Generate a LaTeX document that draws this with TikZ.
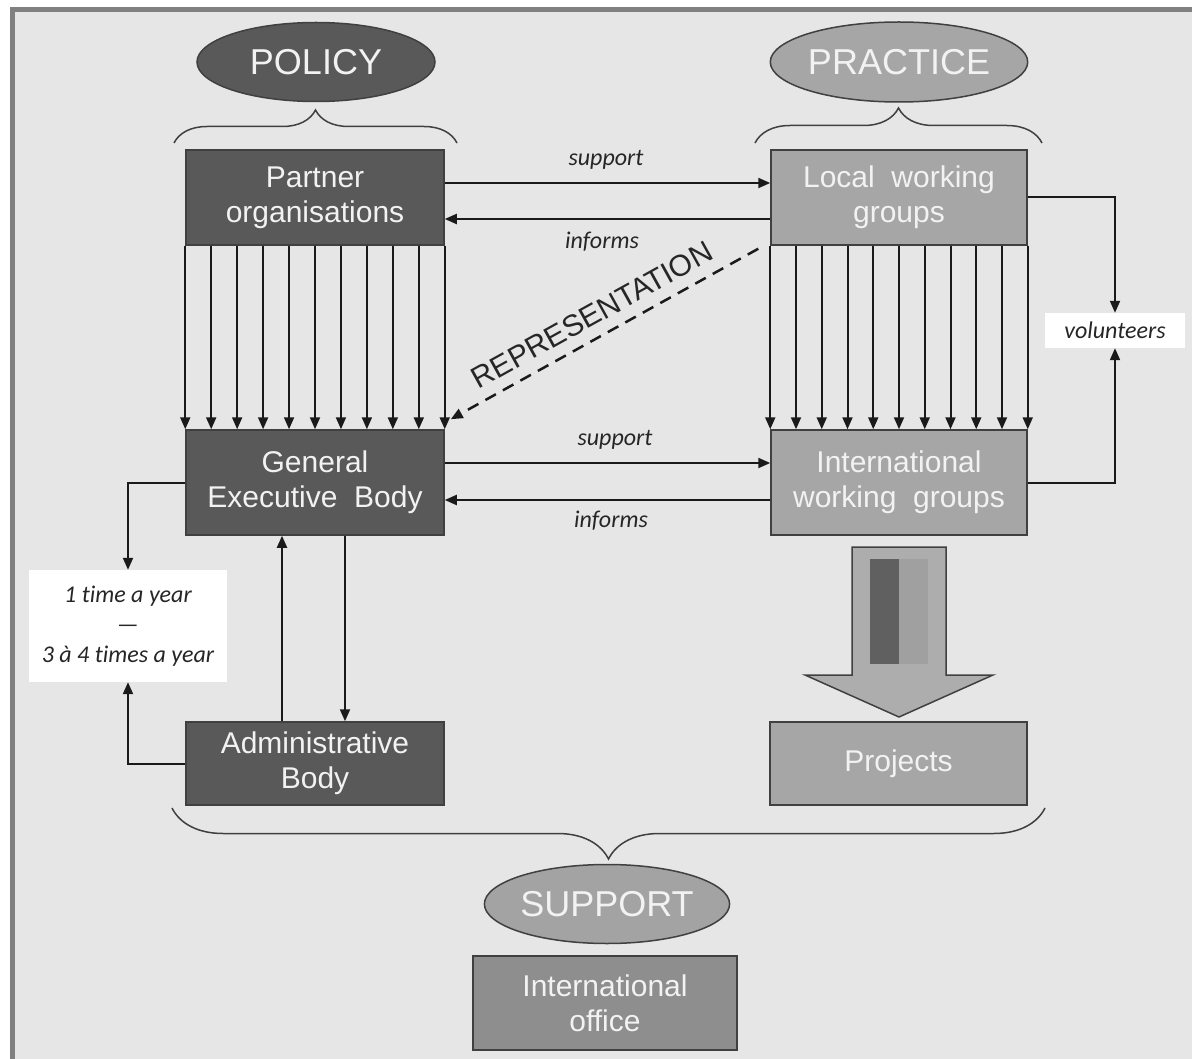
\documentclass[tikz,border=0pt]{standalone}
\usepackage{fontspec}
\setmainfont{Liberation Sans}
\newfontfamily\labfont[Ligatures=NoCommon]{Carlito}
\usetikzlibrary{arrows.meta,shapes.geometric,calc,decorations.pathreplacing}
\definecolor{bg}{HTML}{E6E6E6}
\definecolor{frame}{HTML}{808080}
\definecolor{dk}{HTML}{595959}
\definecolor{lt}{HTML}{A6A6A6}
\definecolor{lt2}{HTML}{A3A3A3}
\definecolor{off}{HTML}{8E8E8E}
\definecolor{edge}{HTML}{404040}
\definecolor{txt}{HTML}{F2F2F2}
\definecolor{ln}{HTML}{1A1A1A}
\definecolor{labtxt}{HTML}{262626}
\definecolor{arrfill}{HTML}{ADADAD}
\definecolor{bardk}{HTML}{606060}
\definecolor{barlt}{HTML}{A0A0A0}
\begin{document}
\begin{tikzpicture}[x=1pt,y=-1pt,
  box/.style={draw=edge, line width=1.5pt, minimum width=258pt, text=txt,
    font=\fontsize{30}{35}\selectfont, align=center, inner sep=0pt},
  darkbox/.style={box, fill=dk},
  lightbox/.style={box, fill=lt},
  oval/.style={ellipse, draw=edge, line width=1.5pt, inner sep=0pt, text=txt,
    font=\fontsize{36}{40}\selectfont},
  arr/.style={draw=ln, line width=2pt, -{Triangle[length=12pt,width=10pt]}},
  lab/.style={font=\labfont\itshape\fontsize{24}{29}\selectfont, text=labtxt, inner sep=0pt},
  brc/.style={draw=edge, line width=1.5pt, decorate, decoration={brace, amplitude=#1}},
]
\useasboundingbox (0,0) rectangle (1192,1059);
\clip (0,0) rectangle (1192,1059);
\fill[white] (0,0) rectangle (1192,1059);
\draw[fill=bg, draw=frame, line width=5pt] (12,9.5) rectangle (1220,1090);

% headings
\node[oval, fill=dk, minimum width=238pt, minimum height=79pt] (policy) at (316,62) {POLICY};
\node[oval, fill=lt, minimum width=239pt, minimum height=80pt] (practice) at (899,62) {PRACTICE};

% braces
\draw[brc=33pt] (174,143) -- (457,143);
\draw[brc=35pt] (755,143) -- (1042,143);
\draw[brc=51pt] (1045,808) -- (172,808);

% boxes
\node[darkbox, minimum height=95pt] (po) at (315,197.5) {Partner\\organisations};
\node[lightbox, minimum width=256pt, minimum height=95pt] (lwg) at (899,197.5) {Local\ \ working\\groups};
\node[darkbox, minimum height=105pt] (geb) at (315,482.5) {General\\Executive\ \ Body};
\node[lightbox, minimum width=256pt, minimum height=105pt] (iwg) at (899,482.5) {International\\working\ \ groups};
\node[darkbox, minimum height=83pt] (adm) at (315,763.5) {Administrative\\Body};
\node[lightbox, minimum width=257pt, minimum height=83pt] (proj) at (898.5,763.5) {Projects};
\node[oval, fill=lt2, minimum width=237pt, minimum height=79pt] (support) at (607,904) {SUPPORT};
\node[box, fill=off, minimum width=264pt, minimum height=94pt] (office) at (605,1003) {International\\office};

\node[lab, fill=white, minimum width=140pt, minimum height=35pt] (vol) at (1115,330.5) {volunteers};
\node[lab, fill=white, minimum width=198pt, minimum height=112pt, align=center] (freq) at (128,626)
  {1 time a year\\[1pt]—\\[1pt]3 à 4 times a year};

% vertical arrow bundles
\foreach \i in {0,...,10}{
  \draw[arr] ($(po.south west)!\i/10!(po.south east)$) -- ($(geb.north west)!\i/10!(geb.north east)$);
  \draw[arr] ($(lwg.south west)!\i/10!(lwg.south east)$) -- ($(iwg.north west)!\i/10!(iwg.north east)$);
}

% horizontal arrows
\draw[arr] ([yshift=14.5pt]po.east) -- ([yshift=14.5pt]lwg.west);
\draw[arr] ([yshift=-21.5pt]lwg.west) -- ([yshift=-21.5pt]po.east);
\draw[arr] ([yshift=19.5pt]geb.east) -- ([yshift=19.5pt]iwg.west);
\draw[arr] ([yshift=-17.5pt]iwg.west) -- ([yshift=-17.5pt]geb.east);
\node[lab] (s1) at (606,160) {support};
\node[lab] (i1) at (602,242) {informs};
\node[lab] (s2) at (615,440) {support};
\node[lab] (i2) at (611,521) {informs};

% representation
\draw[arr, line width=2.5pt, dash pattern=on 12pt off 8pt]
  ([xshift=-12pt,yshift=-3pt]lwg.south west) -- ([xshift=6pt,yshift=10pt]geb.north east);
\node[rotate=29, font=\fontsize{30}{30}\selectfont, text=labtxt, inner sep=0pt] (rep) at (592,315) {REPRESENTATION};

% volunteers
\draw[arr] (lwg.east) -| (vol.north);
\draw[arr] (iwg.east) -| (vol.south);

% frequency
\draw[arr] (geb.west) -| (freq.north);
\draw[arr] (adm.west) -| (freq.south);
\draw[arr] ([xshift=-33pt]adm.north) -- ([xshift=-33pt]geb.south);
\draw[arr] ([xshift=30pt]geb.south) -- ([xshift=30pt]adm.north);

% block arrow
\filldraw[fill=arrfill, draw=edge, line width=1.5pt] (852,547) -- (946,547) -- (946,675) -- (993,675)
  -- (899,717) -- (805,675) -- (852,675) -- cycle;
\fill[bardk] (870,559) rectangle (899,664);
\fill[barlt] (899,559) rectangle (928,664);
\end{tikzpicture}
\end{document}
